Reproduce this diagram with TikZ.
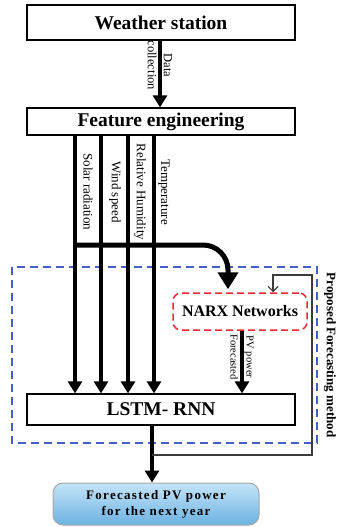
\documentclass[tikz,border=0pt]{standalone}
\usepackage{fontspec}
\setmainfont{Liberation Serif}
\usetikzlibrary{positioning,arrows.meta,calc}

\definecolor{frameblue}{RGB}{70,95,200}
\definecolor{narxred}{RGB}{235,40,50}
\definecolor{fcdark}{RGB}{110,178,225}
\definecolor{fclight}{RGB}{195,228,248}
\definecolor{fbgray}{RGB}{60,60,60}

\tikzset{
  bigbox/.style={draw, line width=1.3pt, minimum width=268pt, inner sep=0pt,
    font=\bfseries\fontsize{19.5}{22}\selectfont},
  narxbox/.style={draw=narxred, line width=1.5pt, dash pattern=on 7pt off 4pt,
    rounded corners=8pt, minimum width=134pt, minimum height=37pt,
    font=\bfseries\fontsize{16}{19}\selectfont},
  fcbox/.style={draw=gray!70, line width=1pt, rounded corners=10pt,
    top color=fclight, bottom color=fcdark, minimum width=206pt, minimum height=42pt,
    align=center, font=\bfseries\fontsize{13}{16}\selectfont\addfontfeature{LetterSpace=10}},
  flow/.style={line width=3.5pt, -{Triangle[length=12pt,width=14pt]}},
  busline/.style={line width=5pt, rounded corners=25pt, -{Triangle[length=17pt,width=20pt]}},
  feedback/.style={fbgray, line width=1.2pt, -{Straight Barb[length=5pt,width=10pt]}},
  featlabel/.style={rotate=-90, inner sep=0pt, font=\fontsize{13}{15}\selectfont},
  edgelabel/.style={rotate=-90, inner sep=0pt, align=center},
}

\begin{document}
\begin{tikzpicture}[x=1pt,y=-1pt]
\useasboundingbox (0,0) rectangle (340,527);

% Main blocks
\node[bigbox, minimum height=35pt] (ws) at (161,22.5) {Weather station};
\node[bigbox, minimum height=27pt] (fe) at (161,121.5) {Feature engineering};
\node[bigbox, minimum height=31pt] (lstm) at (161,409.5) {LSTM- RNN};
\node[narxbox] (narx) at (240,311.5) {NARX Networks};
\node[fcbox] (fc) at (156,504) {Forecasted PV power\\for the next year};

% Proposed method frame
\draw[frameblue, line width=1.3pt, dash pattern=on 8pt off 5pt] (12,267) rectangle (317,443);
\node[rotate=-90, font=\bfseries\fontsize{13}{15}\selectfont] (method) at (330,355)
  {Proposed Forecasting method};

% Data collection
\draw[flow] (ws.south -| 160,0) -- node[edgelabel, pos=0.37,
  font=\fontsize{12.5}{16}\selectfont] {Data\\collection} (fe.north -| 160,0);

% Input features
\foreach \x/\dx/\lab in {75/13/Solar radiation,101/14/Wind speed,
                         128/12/Relative Humidity,154/10/Temperature}{
  \draw[flow] (fe.south -| \x,0) -- (lstm.north -| \x,0);
  \node[featlabel] at (\x+\dx,192) {\lab};
}

% Features to NARX
\coordinate (bus) at (73,245);
\draw[busline, shorten >=3pt] (bus) -- (228,245) -- (narx.north -| 228,0);

% NARX output
\draw[flow] (narx.south -| 242,0) -- node[edgelabel, pos=0.42,
  font=\fontsize{10.5}{16}\selectfont] {PV power\\Forecasted} (lstm.north -| 242,0);

% Output and feedback
\draw[flow] (lstm.south -| 152,0) -- (fc.north -| 152,0);
\coordinate (split) at (152,455);
\draw[feedback] (split) -- (312,455) -- (312,275) -- (273,275) -- (narx.north -| 273,0);
\end{tikzpicture}
\end{document}
